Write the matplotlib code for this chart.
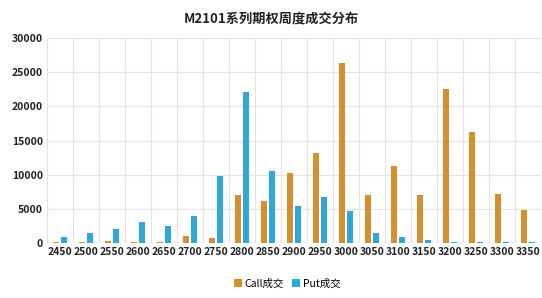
import matplotlib
matplotlib.use("Agg")
import matplotlib.pyplot as plt
import numpy as np

plt.rcParams['font.family'] = ['Noto Sans CJK SC', 'DejaVu Sans']

strikes = ['2450', '2500', '2550', '2600', '2650', '2700', '2750', '2800', '2850', '2900',
           '2950', '3000', '3050', '3100', '3150', '3200', '3250', '3300', '3350']
call_vol = [150, 150, 300, 150, 150, 1000, 700, 7000, 6100, 10200,
            13100, 26400, 7000, 11200, 7000, 22600, 16300, 7200, 4800]
put_vol = [900, 1500, 2100, 3100, 2500, 3900, 9800, 22100, 10500, 5400,
           6700, 4600, 1400, 900, 400, 150, 150, 150, 150]
yticks = [0, 5000, 10000, 15000, 20000, 25000, 30000]

fig = plt.figure(figsize=(5.42, 2.98), dpi=100)
ax = fig.add_axes([0.087, 0.185, 0.911, 0.687])

x = np.arange(len(strikes))
w = 0.22
ax.bar(x - 0.15, call_vol, width=w, color='#D4902F', label='Call成交', zorder=3)
ax.bar(x + 0.15, put_vol, width=w, color='#2EA8D8', label='Put成交', zorder=3)

ax.set_xlim(-0.5, len(strikes) - 0.5)
ax.set_ylim(0, 30000)
ax.set_yticks(yticks)
ax.set_yticklabels([str(v) for v in yticks], fontsize=7.5, color='#222222', fontweight='bold')
ax.set_xticks(x)
ax.set_xticklabels(strikes, fontsize=7.5, color='#222222', fontweight='bold')
ax.set_xticks(np.arange(-0.5, len(strikes)), minor=True)
ax.grid(axis='y', color='#E3E3E3', linewidth=0.8, zorder=0)
ax.grid(axis='x', which='minor', color='#E3E3E3', linewidth=0.8, zorder=0)
ax.tick_params(axis='both', which='both', length=0, pad=3)
for s in ax.spines.values():
    s.set_visible(False)
ax.axhline(0, color='#D9D9D9', linewidth=0.8, zorder=2)

fig.suptitle('M2101系列期权周度成交分布', fontsize=9.5, fontweight='bold', color='#222222', y=0.96)
fig.legend(loc='lower center', bbox_to_anchor=(0.53, 0.0), ncol=2, frameon=False,
           fontsize=7.5, handlelength=0.7, handleheight=0.7, handletextpad=0.3, columnspacing=0.8)

fig.savefig('out.png', dpi=100)
